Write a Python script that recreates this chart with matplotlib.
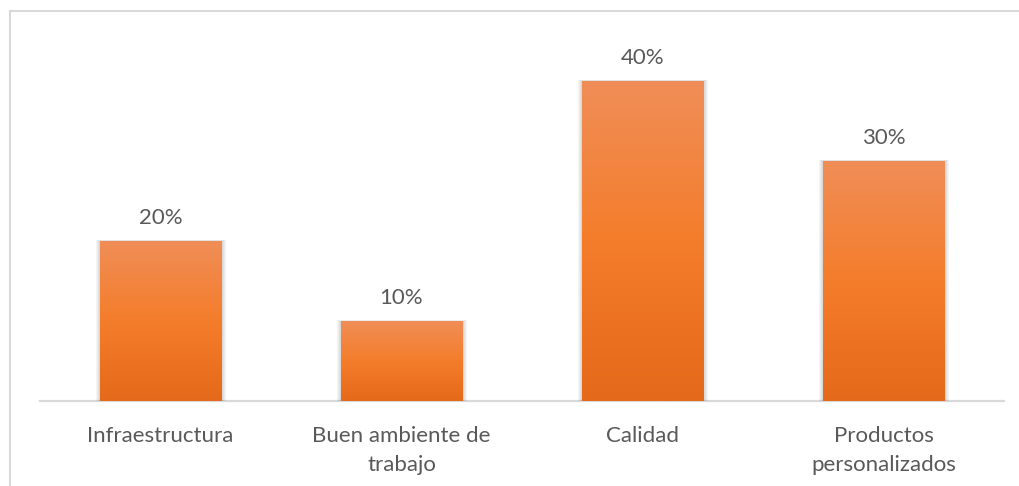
import numpy as np
import matplotlib
matplotlib.use("Agg")
import matplotlib.pyplot as plt
from matplotlib.patches import Rectangle
from matplotlib.colors import LinearSegmentedColormap
from matplotlib.lines import Line2D

categories = ["Infraestructura", "Buen ambiente de\ntrabajo", "Calidad", "Productos\npersonalizados"]
values = [20, 10, 40, 30]
value_labels = ["20%", "10%", "40%", "30%"]

plt.rcParams['font.family'] = ['Lato', 'DejaVu Sans']
text_color = "#595959"
grid_color = "#D9D9D9"

W, H, DPI = 1020, 486, 100
fig = plt.figure(figsize=(W / DPI, H / DPI), dpi=DPI)
fig.patch.set_facecolor("white")

# chart-area frame (top and left edges)
fig.add_artist(Line2D([10.5 / W, 10.5 / W], [0, 1 - 11 / H], transform=fig.transFigure,
                      color=grid_color, lw=1.5))
fig.add_artist(Line2D([10 / W, 1], [1 - 11 / H, 1 - 11 / H], transform=fig.transFigure,
                      color=grid_color, lw=1.5))

ax = fig.add_axes([40 / W, 85 / H, 964 / W, 360 / H])
ax.set_xlim(-0.5, 3.5)
ax.set_ylim(0, 45)
for s in ["top", "right", "left"]:
    ax.spines[s].set_visible(False)
ax.spines["bottom"].set_color(grid_color)
ax.spines["bottom"].set_linewidth(1.6)
ax.spines["bottom"].set_zorder(1)
ax.set_yticks([])
ax.set_xticks(range(len(categories)))
ax.set_xticklabels(categories, fontsize=16, color=text_color, linespacing=1.55)
ax.tick_params(axis="x", length=0, pad=18)

cmap = LinearSegmentedColormap.from_list(
    "bar_grad", [(0.0, "#E5691A"), (0.5, "#F47D2B"), (1.0, "#F08E58")])
grad = np.linspace(0, 1, 256).reshape(-1, 1)

px_x = 1 / 241.0   # one pixel in x data units
px_y = 1 / 8.0     # one pixel in y data units

width = 0.506
for i, v in enumerate(values):
    x0 = i - width / 2
    # soft shadow around the bar
    for k in range(1, 5):
        sh = Rectangle((x0 - k * px_x, 0), width + 2 * k * px_x + px_x, v + 0.25 * k * px_y,
                       facecolor="black", edgecolor="none", alpha=0.04, zorder=2)
        ax.add_patch(sh)
    rect = Rectangle((x0, 0), width, v, facecolor="none", edgecolor="none", zorder=3)
    ax.add_patch(rect)
    im = ax.imshow(grad, cmap=cmap, origin="lower", aspect="auto",
                   extent=[x0, x0 + width, 0, v], zorder=3, interpolation="bilinear")
    im.set_clip_path(rect)
    ax.annotate(value_labels[i], (i, v), xytext=(0, 12.5), textcoords="offset points",
                ha="center", va="baseline", fontsize=16, color=text_color)

ax.set_xlim(-0.5, 3.5)
ax.set_ylim(0, 45)

fig.savefig("out.png", dpi=DPI)
